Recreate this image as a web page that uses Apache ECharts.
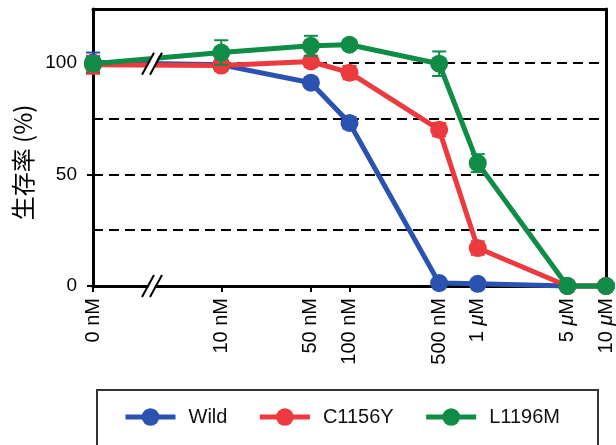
<!DOCTYPE html>
<html><head><meta charset="utf-8">
<script src="https://cdn.jsdelivr.net/npm/echarts@6/dist/echarts.min.js"></script>
<style>html,body{margin:0;padding:0;background:#fff}#c{width:616px;height:445px}</style>
</head><body><div id="c"></div>
<script>
// ---- data ----
const concLabels = ['0 nM', '10 nM', '50 nM', '100 nM', '500 nM', '1 μM', '5 μM', '10 μM'];
const concNM = [0, 10, 50, 100, 500, 1000, 5000, 10000];
const seriesNames = ['Wild', 'C1156Y', 'L1196M'];
const wild = [100, 99, 91, 73, 1.3, 1, 0, 0];
const wildErr = [4.5, 2, 2, 2.5, 1, 1, 0, 0];
const c1156y = [99, 98.7, 100.5, 95.5, 70, 17, 0, 0];
const c1156yErr = [4, 2.5, 2.5, 3, 3, 3, 0, 0];
const l1196m = [99.5, 104.5, 107.5, 108, 99.5, 55, 0, 0];
const l1196mErr = [3, 5.5, 4.5, 2, 5.5, 4, 0, 0];
const yTickValues = [0, 50, 100];
const yGridValues = [25, 50, 75, 100];
const yMax = 124;
const breakAt = 0.46; // axis-break location (log10 nM units)

// ---- helpers ----
const colors = ['#2a52b0', '#ec3a3e', '#0f8c46'];
const xPos = c => c === 0 ? 0 : Math.log10(c);  // 0 nM is drawn at the broken-axis origin
const xTickValues = concNM.map(xPos);
const FONT = 'Liberation Sans, Arial, sans-serif';

function labelFor(v) {
  for (let i = 0; i < xTickValues.length; i++) {
    if (Math.abs(xTickValues[i] - v) < 1e-4) {
      return concLabels[i].replace('μ', '{i|μ}');
    }
  }
  return '';
}

const allVals = [wild, c1156y, l1196m];
const allErr = [wildErr, c1156yErr, l1196mErr];
const series = [];
seriesNames.forEach((name, k) => {
  const col = colors[k];
  const s = {
    name: name + '_err', type: 'custom', clip: false, silent: true, z: 2 + k * 2,
    data: concNM.map((c, i) => [xPos(c), allVals[k][i], allErr[k][i]]),
    renderItem: (params, api) => {
      const x = api.value(0), y = api.value(1), e = api.value(2);
      if (!e) return null;
      const t = api.coord([x, y + e]), b = api.coord([x, y - e]);
      const hw = 7, st = { stroke: col, lineWidth: 2 };
      return { type: 'group', children: [
        { type: 'line', shape: { x1: t[0], y1: t[1], x2: b[0], y2: b[1] }, style: st },
        { type: 'line', shape: { x1: t[0] - hw, y1: t[1], x2: t[0] + hw, y2: t[1] }, style: st },
        { type: 'line', shape: { x1: b[0] - hw, y1: b[1], x2: b[0] + hw, y2: b[1] }, style: st }
      ]};
    }
  };
  if (k === 0) {
    s.markLine = {
      silent: true, symbol: 'none', label: { show: false }, z: 1,
      lineStyle: { color: '#000', width: 2, type: [10, 6] },
      data: yGridValues.map(v => ({ yAxis: v }))
    };
  }
  series.push(s);
  series.push({
    name: name, type: 'line', z: 3 + k * 2,
    data: concNM.map((c, i) => [xPos(c), allVals[k][i]]),
    symbol: 'circle', symbolSize: 18, clip: false,
    itemStyle: { color: col },
    lineStyle: { color: col, width: 5 }
  });
});

const chart = echarts.init(document.getElementById('c'), null, { renderer: 'canvas' });
chart.setOption({
  animation: false,
  backgroundColor: '#fff',
  grid: { left: 93, right: 10, top: 9, bottom: 159, containLabel: false },
  xAxis: [{
    type: 'value', min: 0, max: 4, position: 'bottom',
    axisLine: { onZero: false, lineStyle: { color: '#000', width: 3 } },
    axisTick: { show: true, customValues: xTickValues, length: 6, lineStyle: { color: '#000', width: 2 } },
    axisLabel: {
      customValues: xTickValues, rotate: 90, margin: 12, fontSize: 20, color: '#000', fontFamily: FONT,
      formatter: labelFor,
      rich: { i: { fontStyle: 'italic', fontSize: 20, fontFamily: FONT, color: '#000' } }
    },
    splitLine: { show: false }
  }, {
    type: 'value', min: 0, max: 4, position: 'top',
    axisLine: { show: true, onZero: false, lineStyle: { color: '#000', width: 3 } },
    axisTick: { show: false }, axisLabel: { show: false }, splitLine: { show: false }
  }],
  yAxis: [{
    type: 'value', min: 0, max: yMax, position: 'left',
    name: '生存率 (%)', nameLocation: 'middle', nameGap: 56,
    nameTextStyle: { fontSize: 24, color: '#000', fontFamily: 'Noto Sans CJK JP, sans-serif', padding: [0, 30, 0, 0] },
    axisLine: { show: true, onZero: false, lineStyle: { color: '#000', width: 3 } },
    axisTick: { show: true, customValues: yTickValues, length: 6, lineStyle: { color: '#000', width: 2 } },
    axisLabel: { customValues: yTickValues, margin: 16, fontSize: 19, color: '#000', fontFamily: FONT },
    splitLine: { show: false }
  }, {
    type: 'value', min: 0, max: yMax, position: 'right',
    axisLine: { show: true, onZero: false, lineStyle: { color: '#000', width: 3 } },
    axisTick: { show: false }, axisLabel: { show: false }, splitLine: { show: false }
  }],
  legend: {
    data: seriesNames, left: 123, top: 407,
    padding: 0,
    itemWidth: 50, itemHeight: 22, itemGap: 30,
    lineStyle: { width: 5 },
    textStyle: { fontSize: 20, color: '#111', fontFamily: FONT, padding: [0, 0, 0, 8] }
  },
  series: series
});

// axis-break marks ("//") on the x axis and on the curves
function breakMarks(pt) {
  const [cx, cy] = pt;
  const els = [];
  els.push({ type: 'polygon', z: 100,
    shape: { points: [[cx - 8, cy + 11], [cx - 2, cy + 11], [cx + 8, cy - 11], [cx + 2, cy - 11]] },
    style: { fill: '#fff' } });
  [-4, 4].forEach(o => {
    els.push({ type: 'line', z: 101,
      shape: { x1: cx + o - 6, y1: cy + 11, x2: cx + o + 6, y2: cy - 11 },
      style: { stroke: '#000', lineWidth: 2 } });
  });
  return els;
}
const pAxis = chart.convertToPixel({ gridIndex: 0 }, [breakAt, 0]);
const pLine = chart.convertToPixel({ gridIndex: 0 }, [breakAt, 99.5]);
const legendFrame = { type: 'rect', z: 50, silent: true,
  shape: { x: 97, y: 390, width: 501, height: 70 },
  style: { fill: 'none', stroke: '#333', lineWidth: 2 } };
chart.setOption({ graphic: breakMarks(pAxis).concat(breakMarks(pLine), [legendFrame]) });
</script>
</body></html>
